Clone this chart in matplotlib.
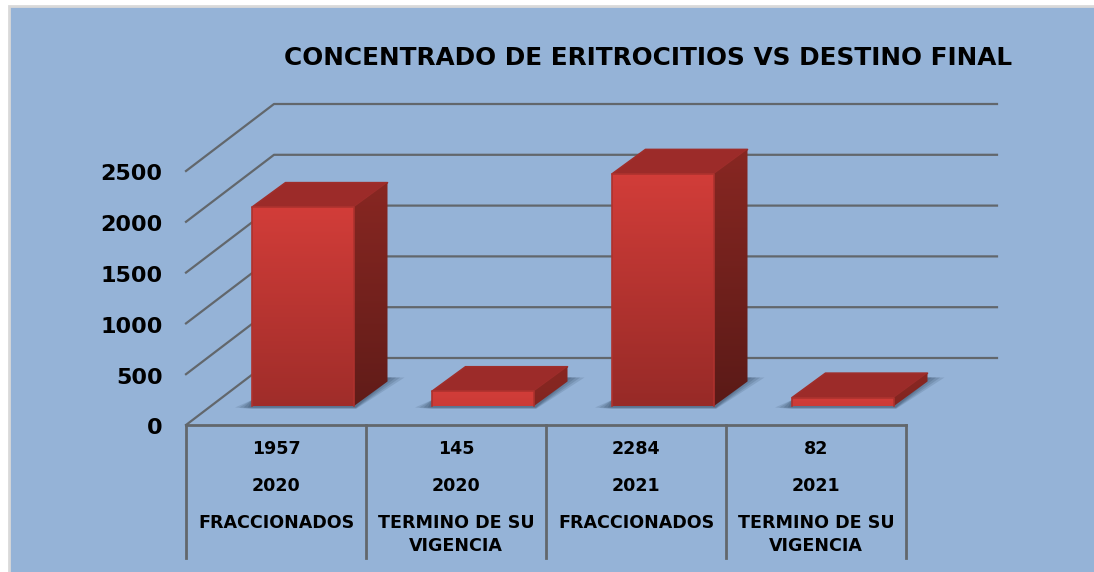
import numpy as np
import matplotlib
matplotlib.use("Agg")
import matplotlib.pyplot as plt
from matplotlib.patches import Polygon, Rectangle
from matplotlib.transforms import ScaledTranslation

# data
values = [1957, 145, 2284, 82]
years = ["2020", "2020", "2021", "2021"]
destinos = ["FRACCIONADOS", "TERMINO DE SU\nVIGENCIA", "FRACCIONADOS", "TERMINO DE SU\nVIGENCIA"]
yticks = [0, 500, 1000, 1500, 2000, 2500]
title = "CONCENTRADO DE ERITROCITIOS VS DESTINO FINAL"

W, H = 1094, 572
FONT = "DejaVu Sans"
GRID = "#62676c"

# one pixel in data units (x = categories, y = value)
PX, PY = 1 / 180.0, 1 / 0.1016

# depth of the fake 3d box
DX, DY = 88 * PX, 67 * PY
BAR_W = 102 * PX

fig = plt.figure(figsize=(W / 100, H / 100), dpi=100, facecolor="white")

# blue panel behind everything, runs off the right and bottom edges
bg = fig.add_axes([0, 0, 1, 1])
bg.set_xlim(0, W)
bg.set_ylim(H, 0)
bg.axis("off")
bg.add_patch(Rectangle((9, 6), 1100, 580, fc="#95b3d7", ec="#d9d9d9", lw=2))

# front plane of the box: 186..906 px wide, 0 at y=425, 2500 at y=171
ax = fig.add_axes([186 / W, 1 - 425 / H, 720 / W, 254 / H])
ax.patch.set_alpha(0)
ax.set_xlim(0, 4)
ax.set_ylim(0, 2500)
for s in ax.spines.values():
    s.set_visible(False)
ax.set_xticks([])
ax.set_yticks(yticks)
ax.set_yticklabels([str(v) for v in yticks], fontsize=16, fontweight="bold", family=FONT, color="black")
ax.tick_params(axis="y", length=0, pad=17)
for lbl in ax.get_yticklabels():
    lbl.set_transform(lbl.get_transform() + ScaledTranslation(0, -1.5 / 100, fig.dpi_scale_trans))

# walls and gridlines
for v in yticks:
    ax.plot([0, DX, 4 + 91 * PX], [v, v + DY, v + DY], color=GRID, lw=1.6, clip_on=False, zorder=1)

# floor front edge and the table under it
ax.plot([0, 4], [0, 0], color=GRID, lw=2, clip_on=False, zorder=1)
for i in range(5):
    ax.plot([i, i], [0, -133 * PY], color=GRID, lw=2, clip_on=False, zorder=1)

rgb = matplotlib.colors.to_rgb


def mix(c0, c1, t):
    return tuple((1 - t) * a + t * b for a, b in zip(rgb(c0), rgb(c1)))


def gradient(x0, x1, y0, y1, c_top, c_bot, clip):
    t = np.linspace(0, 1, 256)
    img = np.array([[mix(c_top, c_bot, s)] for s in t])
    im = ax.imshow(img, extent=[x0, x1, y0, y1], aspect="auto", origin="upper", zorder=4, interpolation="bilinear")
    # images get cut at the axes box unless told otherwise
    im.set_clip_box(fig.bbox)
    im.set_clip_path(clip)
    return im


oy = 19 * PY      # bars sit a little behind the front edge
ox = 27 * PX
ddx, ddy = 33.5 * PX, 24.5 * PY
vmax = max(values)

for i, v in enumerate(values):
    x0 = i + 0.5 - BAR_W / 2 + ox
    x1 = x0 + BAR_W
    y0, y1 = oy, oy + v
    shade = max(v / vmax, 0.12)

    # soft shadow on the floor, nested polygons
    for grow, a in zip([1.0, 0.75, 0.5, 0.25], [0.18, 0.22, 0.26, 0.3]):
        pts = [(x0 - 17 * grow * PX, y0 - 1.5 * PY), (x0, y0 - (1 + 2 * grow) * PY),
               (x1 + 2 * PX, y0 - (1 + 2 * grow) * PY),
               (x1 + ddx + 17 * grow * PX, y0 + ddy + 4 * PY), (x1 + ddx - 2 * PX, y0 + ddy + 4 * PY),
               (x0, y0 + 6 * PY)]
        ax.add_patch(Polygon(pts, fc="#3f5670", ec="none", alpha=a, zorder=2, clip_on=False))

    # top
    ax.add_patch(Polygon([(x0, y1), (x1, y1), (x1 + ddx, y1 + ddy), (x0 + ddx, y1 + ddy)],
                         fc="#9c2b29", ec="#9f2e2b", lw=1.2, zorder=3, clip_on=False, joinstyle="round"))
    # side
    side = Polygon([(x1, y0), (x1 + ddx, y0 + ddy), (x1 + ddx, y1 + ddy), (x1, y1)],
                   fc="none", ec="none", clip_on=False)
    ax.add_patch(side)
    gradient(x1, x1 + ddx, y0, y1 + ddy, "#882722", mix("#882722", "#5a1a17", shade), side)
    # front
    front = Polygon([(x0, y0), (x1, y0), (x1, y1), (x0, y1)], fc="none", ec="none", clip_on=False)
    ax.add_patch(front)
    gradient(x0, x1, y0, y1, "#d23d39", mix("#d23d39", "#972a27", shade), front)
    ax.plot([x0, x0, x1, x1], [y0, y1, y1, y0], color="#ad322e", lw=1.2, zorder=5, clip_on=False,
            solid_joinstyle="round")

ax.set_xlim(0, 4)
ax.set_ylim(0, 2500)
ax.set_aspect("auto")

# table text
TS = 12.6
for i in range(4):
    ax.text(i + 0.5, -24 * PY, str(values[i]), ha="center", va="center", fontsize=TS, fontweight="bold", family=FONT, clip_on=False)
    ax.text(i + 0.5, -61 * PY, years[i], ha="center", va="center", fontsize=TS, fontweight="bold", family=FONT, clip_on=False)
    ax.text(i + 0.5, -89 * PY, destinos[i], ha="center", va="top", fontsize=TS, fontweight="bold", family=FONT,
            linespacing=1.35, clip_on=False)

fig.text(648 / W, 1 - 58 / H, title, ha="center", va="center", fontsize=17.8, fontweight="bold", family=FONT, color="black")

fig.savefig("out.png", dpi=100)
